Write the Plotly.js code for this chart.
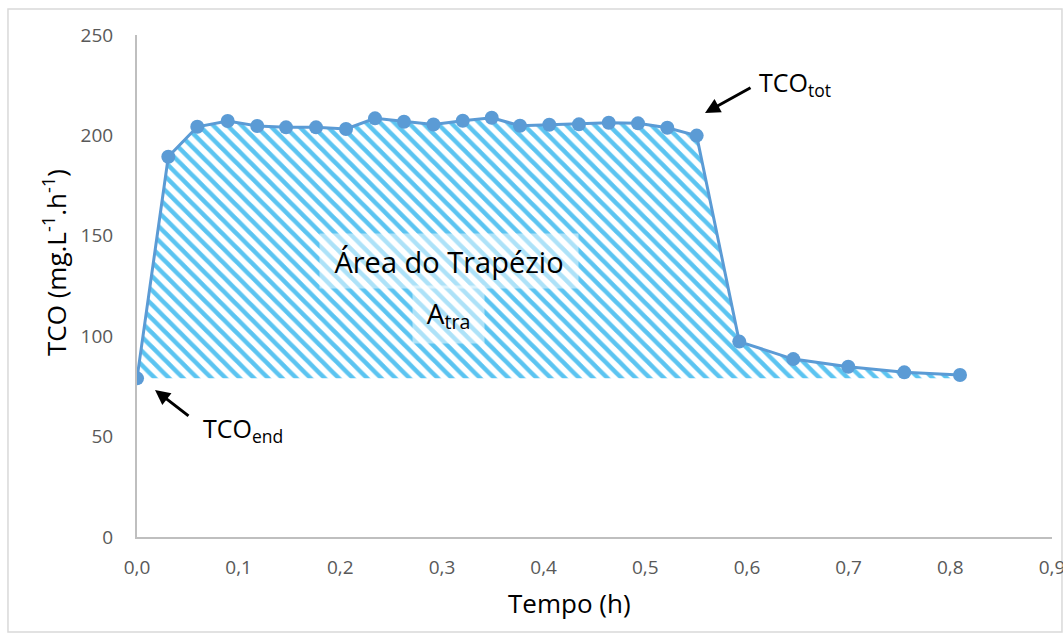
<!DOCTYPE html>
<html>
<head>
<meta charset="utf-8">
<script src="https://cdn.plot.ly/plotly-3.0.1.min.js"></script>
<style>body{margin:0;padding:0;background:#fff;overflow:hidden;} #chart{width:1063px;height:633px;overflow:hidden;}</style>
</head>
<body>
<div id="chart"></div>
<script>
// Data
var tempo = [0, 0.0308, 0.0593, 0.0892, 0.1183, 0.1466, 0.1761, 0.2056, 0.2341, 0.2626, 0.2916, 0.3204, 0.3489, 0.3767, 0.4055, 0.4347, 0.4640, 0.4928, 0.5216, 0.5505, 0.5924, 0.6455, 0.6996, 0.7547, 0.8095];
var tco = [79.0, 189.4, 204.3, 207.2, 204.7, 204.0, 204.0, 203.2, 208.5, 206.8, 205.4, 207.3, 208.8, 204.8, 205.3, 205.5, 206.3, 206.0, 203.8, 199.9, 97.3, 88.6, 84.8, 82.0, 80.7];
var xTicks = [0, 0.1, 0.2, 0.3, 0.4, 0.5, 0.6, 0.7, 0.8, 0.9];
var yTicks = [0, 50, 100, 150, 200, 250];

var baseX = [tempo[0], tempo[tempo.length - 1]];
var baseY = [tco[0], tco[0]];

var font = '"Open Sans", "Noto Sans", sans-serif';

var traces = [
  {x: baseX, y: baseY, mode: 'lines', line: {width: 0, color: 'rgba(0,0,0,0)'}, hoverinfo: 'skip', showlegend: false},
  {x: tempo, y: tco, mode: 'lines+markers', fill: 'tonexty',
   fillcolor: 'rgba(255,255,255,0)',
   fillpattern: {shape: '\\', fgcolor: '#5BC4F1', bgcolor: '#ffffff', size: 10, solidity: 0.45},
   line: {color: '#5B9BD5', width: 3},
   marker: {color: '#5B9BD5', size: 14},
   showlegend: false}
];

var layout = {
  width: 1063, height: 633,
  margin: {l: 137, r: 11, t: 35, b: 96},
  paper_bgcolor: '#ffffff', plot_bgcolor: '#ffffff',
  separators: ', ',
  showlegend: false,
  font: {family: font, color: '#000'},
  xaxis: {
    range: [0, 0.9], tickvals: xTicks, tickformat: '.1f',
    showgrid: false, zeroline: false, showline: true, linecolor: '#BFBFBF', linewidth: 2,
    ticks: '', ticklabelstandoff: 12, ticklabeloverflow: 'allow',
    tickfont: {family: font, size: 19, color: '#595959'}
  },
  yaxis: {
    range: [0, 250], tickvals: yTicks,
    showgrid: false, zeroline: false, showline: true, linecolor: '#BFBFBF', linewidth: 2,
    ticks: '', ticklabelstandoff: 18,
    tickfont: {family: font, size: 19, color: '#595959'}
  },
  shapes: [
    {type: 'rect', xref: 'paper', yref: 'paper', x0: -0.141, x1: 1.0109, y0: -0.1892, y1: 1.0518,
     line: {color: '#D9D9D9', width: 1.5}, fillcolor: 'rgba(0,0,0,0)', layer: 'below'}
  ],
  annotations: [
    {x: 0.4732, y: -0.1315, xref: 'paper', yref: 'paper', text: 'Tempo (h)', showarrow: false,
     xanchor: 'center', yanchor: 'middle', font: {family: font, size: 26, color: '#000'}},
    {x: -0.0896, y: 0.5458, xref: 'paper', yref: 'paper', text: 'TCO (mg.L<sup>-1</sup>.h<sup>-1</sup>)', showarrow: false,
     textangle: -90, xanchor: 'center', yanchor: 'middle', font: {family: font, size: 26, color: '#000'}},
    {x: 0.3069, y: 137.5, xref: 'x', yref: 'y', text: 'Área do Trapézio', showarrow: false,
     font: {family: font, size: 29, color: '#000'}, bgcolor: 'rgba(255,255,255,0.5)', width: 256, height: 52},
    {x: 0.3064, y: 110.8, xref: 'x', yref: 'y', text: 'A<sub>tra</sub>', showarrow: false,
     font: {family: font, size: 28, color: '#000'}, bgcolor: 'rgba(255,255,255,0.5)', width: 69, height: 55},
    {x: 0.5587, y: 211.2, xref: 'x', yref: 'y', text: '', showarrow: true, ax: 47, ay: -26,
     arrowhead: 2, arrowsize: 1, arrowwidth: 3, arrowcolor: '#000'},
    {x: 0.647, y: 226, xref: 'x', yref: 'y', text: 'TCO<sub>tot</sub>', showarrow: false,
     font: {family: font, size: 25, color: '#000'}},
    {x: 0.0177, y: 73.2, xref: 'x', yref: 'y', text: '', showarrow: true, ax: 35, ay: 27,
     arrowhead: 2, arrowsize: 1, arrowwidth: 3, arrowcolor: '#000'},
    {x: 0.104, y: 53.3, xref: 'x', yref: 'y', text: 'TCO<sub>end</sub>', showarrow: false,
     font: {family: font, size: 25, color: '#000'}}
  ]
};

Plotly.newPlot('chart', traces, layout, {displayModeBar: false, staticPlot: true});
</script>
</body>
</html>
